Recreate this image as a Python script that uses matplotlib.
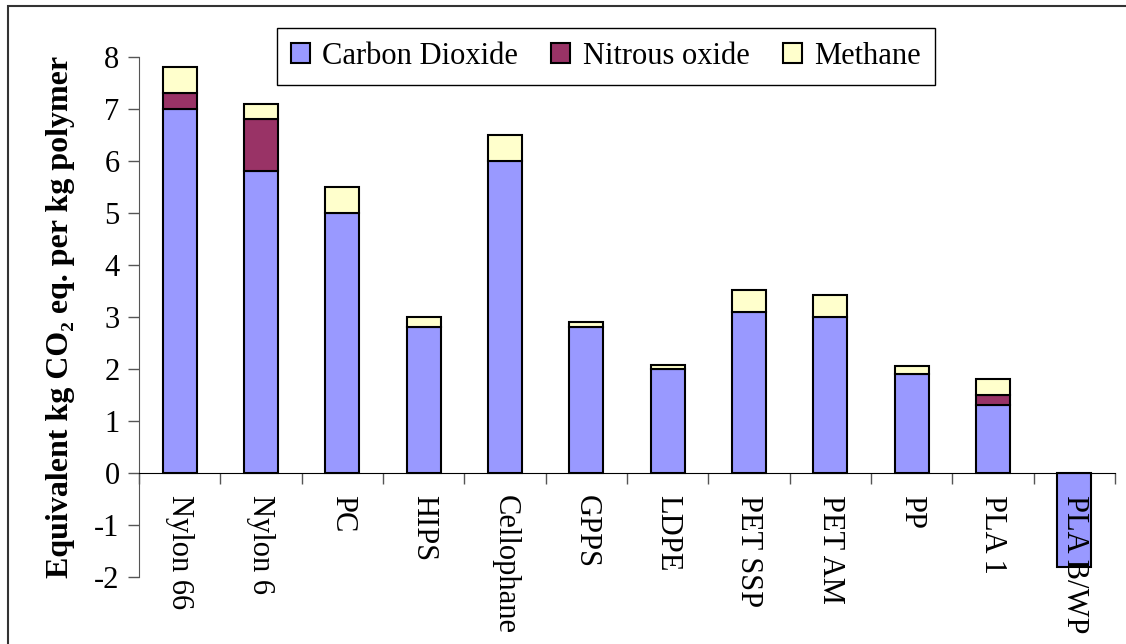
import numpy as np
import matplotlib
matplotlib.use('Agg')
import matplotlib.pyplot as plt
from matplotlib.patches import Rectangle

plt.rcParams['font.family'] = ['Liberation Serif', 'DejaVu Serif']
plt.rcParams['axes.unicode_minus'] = False
SERIF = ['Liberation Serif', 'DejaVu Serif']

# data
polymers = ['Nylon 66', 'Nylon 6', 'PC', 'HIPS', 'Cellophane', 'GPPS', 'LDPE',
            'PET SSP', 'PET AM', 'PP', 'PLA 1', 'PLA B/WP']
carbon_dioxide = [7.0, 5.8, 5.0, 2.8, 6.0, 2.8, 2.0, 3.1, 3.0, 1.9, 1.3, -1.8]
nitrous_oxide = [0.3, 1.0, 0.0, 0.0, 0.0, 0.0, 0.0, 0.0, 0.0, 0.0, 0.2, 0.0]
methane = [0.5, 0.3, 0.5, 0.2, 0.5, 0.1, 0.07, 0.42, 0.42, 0.15, 0.3, 0.0]

fig = plt.figure(figsize=(11.26, 6.44), dpi=100)
ax = fig.add_axes([0.1234, 0.104, 0.8668, 0.8075])

x = np.arange(len(polymers))
co2 = np.array(carbon_dioxide)
n2o = np.array(nitrous_oxide)
ch4 = np.array(methane)
width = 0.42
bar_kw = dict(width=width, edgecolor='black', linewidth=1.5)

ax.bar(x, co2, color='#9999FF', label='Carbon Dioxide', **bar_kw)
base = np.where(co2 > 0, co2, 0)
m = n2o > 0
ax.bar(x[m], n2o[m], bottom=base[m], color='#993366', label='Nitrous oxide', **bar_kw)
base = base + n2o
m = ch4 > 0
ax.bar(x[m], ch4[m], bottom=base[m], color='#FFFFCC', label='Methane', **bar_kw)

ax.set_xlim(-0.5, len(polymers) - 0.5)
ax.set_ylim(-2, 8)
ax.set_yticks(range(-2, 9))
ax.tick_params(axis='y', labelsize=22, length=8, width=1, color='#555555', pad=6)
for t in ax.get_yticklabels():
    t.set_family(SERIF)

for s in ['top', 'right']:
    ax.spines[s].set_visible(False)
ax.spines['bottom'].set_position(('data', 0))
ax.spines['left'].set_color('#555555')

ax.set_xticks(x)
ax.set_xticklabels(polymers, rotation=270, fontsize=22, ha='center', va='top',
                   family=SERIF)
ax.set_xticks(np.arange(-0.5, len(polymers)), minor=True)
ax.tick_params(axis='x', which='major', length=0, pad=16)
ax.tick_params(axis='x', which='minor', length=8, width=1, color='#555555')

ax.set_ylabel('Equivalent kg CO\u2082 eq. per kg polymer', fontsize=23,
              fontweight='bold', labelpad=14, family=SERIF)

leg = ax.legend(loc='upper center', bbox_to_anchor=(0.538, 0.9565),
                bbox_transform=fig.transFigure, ncol=3,
                prop={'family': SERIF, 'size': 22},
                fancybox=False, edgecolor='black', framealpha=1,
                handlelength=0.62, handleheight=0.62, handletextpad=0.4,
                columnspacing=1.1, borderpad=0.45, borderaxespad=0)
leg.get_frame().set_linewidth(1)

# outer chart border
fig.patches.append(Rectangle((0.007, -0.1), 1.2, 0.0907 + 1.0, transform=fig.transFigure,
                             fill=False, edgecolor='#333333', linewidth=1.5))

fig.savefig('out.png', dpi=100)
